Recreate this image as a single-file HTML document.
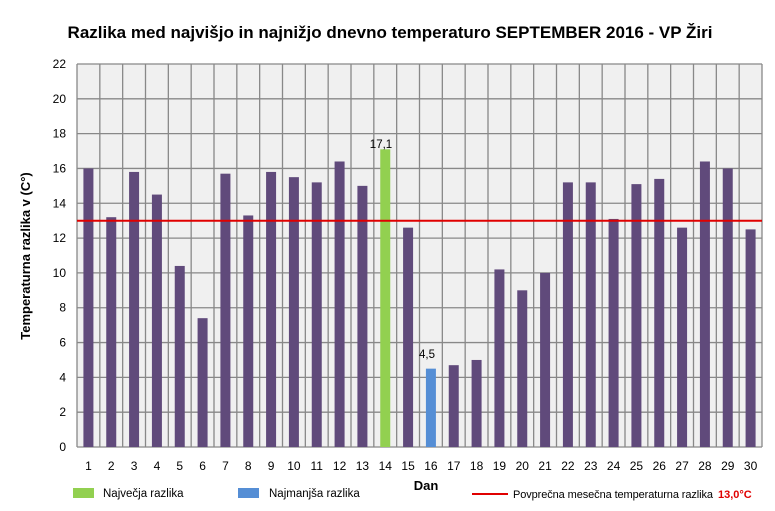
<!DOCTYPE html>
<html><head><meta charset="utf-8"><style>body{margin:0;background:#fff}</style></head><body>
<svg width="775" height="506" xmlns="http://www.w3.org/2000/svg" font-family="Liberation Sans, DejaVu Sans, sans-serif">
<text x="390" y="38" text-anchor="middle" font-size="17" font-weight="bold" fill="#000">Razlika med najvišjo in najnižjo dnevno temperaturo SEPTEMBER 2016 - VP Žiri</text>
<rect x="77" y="64" width="685" height="383" fill="#f0f0f0"/>
<g id="g" stroke="#888" stroke-width="1.3"></g>
<g id="b"></g>
<line x1="77" y1="220.7" x2="762" y2="220.7" stroke="#e00000" stroke-width="2"/>
<g id="t" font-size="12" fill="#000"></g>
<text x="381" y="148" text-anchor="middle" font-size="11.5">17,1</text>
<text x="427" y="358" text-anchor="middle" font-size="11.5">4,5</text>
<text x="426" y="490" text-anchor="middle" font-size="13" font-weight="bold">Dan</text>
<text transform="translate(30,256) rotate(-90)" text-anchor="middle" font-size="13" font-weight="bold">Temperaturna razlika v (C°)</text>
<rect x="73" y="488" width="21" height="10" fill="#92d050"/>
<text x="103" y="497" font-size="11.5">Največja razlika</text>
<rect x="238" y="488" width="21" height="10" fill="#558ed5"/>
<text x="269" y="497" font-size="11.5">Najmanjša razlika</text>
<line x1="472" y1="494" x2="508" y2="494" stroke="#e00000" stroke-width="2"/>
<text x="513" y="498" font-size="11" textLength="200">Povprečna mesečna temperaturna razlika</text>
<text x="718" y="498" font-size="11" fill="#e00000" font-weight="bold">13,0°C</text>
</svg>
<script>
const v=[16,13.2,15.8,14.5,10.4,7.4,15.7,13.3,15.8,15.5,15.2,16.4,15,17.1,12.6,4.5,4.7,5,10.2,9,10,15.2,15.2,13.1,15.1,15.4,12.6,16.4,16,12.5];
const ns="http://www.w3.org/2000/svg",L=77,W=685/30,Y0=447,S=383/22;
function el(p,t,a,txt){const e=document.createElementNS(ns,t);for(const k in a)e.setAttribute(k,a[k]);if(txt!=null)e.textContent=txt;document.getElementById(p).appendChild(e);}
for(let i=0;i<=30;i++){const x=L+i*W;el('g','line',{x1:x,y1:64,x2:x,y2:447});}
for(let k=0;k<=22;k+=2){const y=Y0-k*S;el('g','line',{x1:77,y1:y,x2:762,y2:y});el('t','text',{x:66,y:y+4,'text-anchor':'end'},k);}
v.forEach((d,i)=>{const c=L+(i+0.5)*W;el('b','rect',{x:c-5,y:Y0-d*S,width:10,height:d*S,fill:i==13?'#92d050':i==15?'#558ed5':'#604a7b'});el('t','text',{x:c,y:470,'text-anchor':'middle'},i+1);});
</script>
</body></html>
